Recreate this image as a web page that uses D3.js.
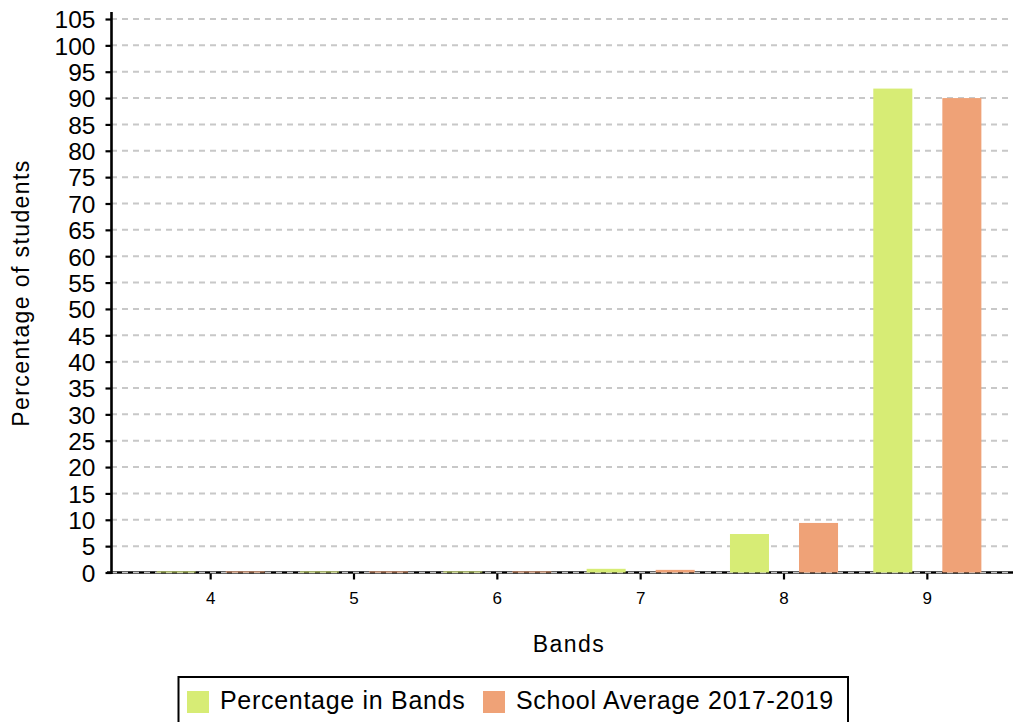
<!DOCTYPE html>
<html>
<head>
<meta charset="utf-8">
<script src="https://cdn.jsdelivr.net/npm/d3@7/dist/d3.min.js"></script>
<style>
  html, body { margin: 0; padding: 0; background: #fff; }
  svg { display: block; font-family: "Liberation Sans", Arial, sans-serif; }
</style>
</head>
<body>
<svg id="chart" width="1018" height="722"></svg>
<script>
// Bands and the share of students in each
const bands = ["4", "5", "6", "7", "8", "9"];
const seriesNames = ["Percentage in Bands", "School Average 2017-2019"];
const percentageInBands = [0.2, 0.2, 0.2, 0.7, 7.3, 91.8];
const schoolAverage = [0.2, 0.2, 0.2, 0.5, 9.4, 90.0];
const seriesColors = ["#d7ec75", "#efa277"];
const yTicks = d3.range(0, 106, 5);

const svg = d3.select("#chart");
const plot = { left: 111, right: 1013, top: 19, bottom: 572.5 };

const x0 = d3.scaleBand()
  .domain(bands)
  .range([139, 999])
  .paddingInner(0.246)
  .paddingOuter(0.123);

const x1 = d3.scaleBand()
  .domain(seriesNames)
  .range([0, x0.bandwidth()])
  .paddingInner(0.4348);

const y = d3.scaleLinear().domain([0, 105]).range([plot.bottom, plot.top]);

const rows = bands.map((b, i) => ({
  band: b,
  values: [
    { name: seriesNames[0], value: percentageInBands[i], color: seriesColors[0] },
    { name: seriesNames[1], value: schoolAverage[i], color: seriesColors[1] }
  ]
}));

// horizontal dashed grid
svg.append("g")
  .selectAll("line")
  .data(yTicks.filter(t => t > 0))
  .join("line")
  .attr("x1", plot.left)
  .attr("x2", plot.right)
  .attr("y1", d => y(d))
  .attr("y2", d => y(d))
  .attr("stroke", "#c8c8c8")
  .attr("stroke-width", 2)
  .attr("stroke-dasharray", "6,5");

// x axis
const xAxis = svg.append("g")
  .attr("transform", `translate(0,${plot.bottom})`)
  .call(d3.axisBottom(x0).tickSize(7).tickPadding(12).tickSizeOuter(0));
xAxis.select(".domain").remove();
xAxis.append("line")
  .attr("x1", plot.left - 4)
  .attr("x2", plot.right)
  .attr("stroke", "#000")
  .attr("stroke-width", 2.6);
xAxis.selectAll(".tick line").attr("stroke", "#000").attr("stroke-width", 2.2);
xAxis.selectAll(".tick text")
  .attr("fill", "#000")
  .attr("font-size", 17)
  .attr("font-family", "Liberation Sans, Arial, sans-serif");

// zero grid line on top of the axis line
svg.append("line")
  .attr("x1", plot.left)
  .attr("x2", plot.right)
  .attr("y1", y(0))
  .attr("y2", y(0))
  .attr("stroke", "#c8c8c8")
  .attr("stroke-width", 1.5)
  .attr("stroke-dasharray", "6,5");

// y axis
const yAxis = svg.append("g")
  .attr("transform", `translate(${plot.left + 0.5},0)`)
  .call(d3.axisLeft(y).tickValues(yTicks).tickSize(6).tickPadding(10).tickSizeOuter(0));
yAxis.select(".domain").remove();
yAxis.append("line")
  .attr("y1", 12)
  .attr("y2", plot.bottom + 1.5)
  .attr("stroke", "#000")
  .attr("stroke-width", 2.6);
yAxis.selectAll(".tick line").attr("stroke", "#000").attr("stroke-width", 2.2);
yAxis.selectAll(".tick text")
  .attr("fill", "#000")
  .attr("font-size", 24.5)
  .attr("dy", "0.36em")
  .attr("font-family", "Liberation Sans, Arial, sans-serif");

// bars
svg.append("g")
  .selectAll("g")
  .data(rows)
  .join("g")
  .attr("transform", d => `translate(${x0(d.band)},0)`)
  .selectAll("rect")
  .data(d => d.values)
  .join("rect")
  .attr("x", d => x1(d.name))
  .attr("width", x1.bandwidth())
  .attr("y", d => y(d.value))
  .attr("height", d => y(0) - y(d.value))
  .attr("fill", d => d.color);

// axis titles
svg.append("text")
  .attr("x", 569)
  .attr("y", 652)
  .attr("text-anchor", "middle")
  .attr("font-size", 23)
  .attr("letter-spacing", 1.5)
  .text("Bands");

svg.append("text")
  .attr("transform", "translate(29,293) rotate(-90)")
  .attr("text-anchor", "middle")
  .attr("font-size", 23)
  .attr("letter-spacing", 1.4)
  .text("Percentage of students");

// legend
const legend = svg.append("g");
legend.append("rect")
  .attr("x", 178.5)
  .attr("y", 677)
  .attr("width", 669.5)
  .attr("height", 60)
  .attr("fill", "#fff")
  .attr("stroke", "#000")
  .attr("stroke-width", 2);

const legendX = [187, 483];
seriesNames.forEach((name, i) => {
  legend.append("rect")
    .attr("x", legendX[i])
    .attr("y", 691)
    .attr("width", 22)
    .attr("height", 22)
    .attr("fill", seriesColors[i]);
  legend.append("text")
    .attr("x", legendX[i] + 33)
    .attr("y", 709)
    .attr("font-size", 25)
    .attr("letter-spacing", 0.7)
    .text(name);
});
</script>
</body>
</html>
